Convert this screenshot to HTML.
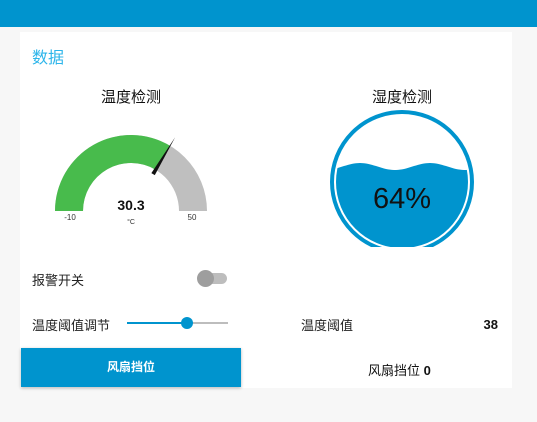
<!DOCTYPE html>
<html><head><meta charset="utf-8"><style>
body{margin:0;width:537px;height:422px;background:#f7f7f7;font-family:"Liberation Sans","Noto Sans CJK SC",sans-serif;overflow:hidden;position:relative}
.abs{position:absolute}
</style></head><body>
<div class="abs" style="left:0;top:0;width:537px;height:27px;background:#0094ce"></div>
<div class="abs" style="left:20px;top:32px;width:492px;height:356px;background:#fff"></div>
<div class="abs" style="left:32px;top:44px;font-size:16px;color:#2cb5ea">数据</div>
<div class="abs" style="left:60px;top:86px;width:142px;text-align:center;font-size:15px;color:#111">温度检测</div>
<div class="abs" style="left:330px;top:86px;width:144px;text-align:center;font-size:15px;color:#111">湿度检测</div>
<svg class="abs" style="left:0;top:0" width="537" height="422">
<g id="gauge"></g>
<g>
<defs><clipPath id="cp"><rect x="320" y="100" width="170" height="147"/></clipPath>
<clipPath id="ic"><circle cx="402" cy="182" r="66"/></clipPath></defs>
<g clip-path="url(#cp)">
<circle cx="402" cy="182" r="70" fill="none" stroke="#0094ce" stroke-width="4"/>
<g clip-path="url(#ic)"><path id="wave" fill="#0094ce" d=""/></g>
<text x="402" y="208" text-anchor="middle" font-size="29" fill="#111" font-family="Liberation Sans,sans-serif" id="pct"></text>
</g></g>
</svg>
<div class="abs" style="left:32px;top:270px;font-size:13px;color:#222">报警开关</div>
<div class="abs" style="left:198px;top:273px;width:29px;height:11px;border-radius:6px;background:#bdbdbd">
<div style="position:absolute;left:-1px;top:-3px;width:17px;height:17px;border-radius:50%;background:#9e9e9e"></div></div>
<div class="abs" style="left:32px;top:315px;font-size:13px;color:#222">温度阈值调节</div>
<div class="abs" style="left:127px;top:322px;width:101px;height:2px;background:#bdbdbd">
<div style="position:absolute;left:0;top:0;width:60px;height:2px;background:#0094ce"></div>
<div style="position:absolute;left:54px;top:-5px;width:12px;height:12px;border-radius:50%;background:#0094ce"></div></div>
<div class="abs" style="left:301px;top:315px;font-size:13px;color:#222">温度阈值</div>
<div class="abs" style="left:470px;top:317px;width:28px;text-align:right;font-size:13px;font-weight:bold;color:#111">38</div>
<div class="abs" style="left:21px;top:348px;width:220px;height:39px;background:#0094ce;color:#fff;font-size:12px;font-weight:bold;text-align:center;line-height:39px;box-shadow:0 1px 3px rgba(0,0,0,.3)">风扇挡位</div>
<div class="abs" style="left:368px;top:360px;font-size:13px;color:#111">风扇挡位 <b>0</b></div>
<script>
const gaugeMin=[-10], gaugeMax=[50], gaugeValue=[30.3], gaugeUnit=["°C"];
const humidity=[64];
const NS="http://www.w3.org/2000/svg";
const cx=131,cy=211,R=76,r=48;
function pt(f,rad){const a=Math.PI*(1-f);return [cx+rad*Math.cos(a),cy-rad*Math.sin(a)];}
function arc(f0,f1,col){const a=pt(f0,R),b=pt(f1,R),c=pt(f1,r),d=pt(f0,r);
const p=document.createElementNS(NS,"path");


p.setAttribute("d",`M${a}A${R},${R} 0 0 1 ${b}L${c}A${r},${r} 0 0 0 ${d}Z`);p.setAttribute("fill",col);return p;}
const g=document.getElementById("gauge");
const f=(gaugeValue[0]-gaugeMin[0])/(gaugeMax[0]-gaugeMin[0]);
g.appendChild(arc(0,1,"#bfbfbf"));g.appendChild(arc(0,f,"#48bb4c"));
const n1=pt(f,R+10),n0=pt(f,r-5),perp=Math.PI*(1-f)+Math.PI/2;
const nd=document.createElementNS(NS,"path");


const w=2;nd.setAttribute("d",`M${n0[0]+w*Math.cos(perp)},${n0[1]-w*Math.sin(perp)}L${n1}L${n0[0]-w*Math.cos(perp)},${n0[1]+w*Math.sin(perp)}Z`);
nd.setAttribute("fill","#111");g.appendChild(nd);
function txt(x,y,s,sz,wt,name,col){const t=document.createElementNS(NS,"text");


t.setAttribute("x",x);t.setAttribute("y",y);t.setAttribute("text-anchor","middle");t.setAttribute("font-size",sz);
t.setAttribute("font-weight",wt);t.setAttribute("fill",col||"#111");t.textContent=s;g.appendChild(t);}
txt(cx,210,gaugeValue[0].toFixed(1),14,"bold","gauge-value");
txt(cx,224,gaugeUnit[0],7,"normal","gauge-unit","#333");
txt(70,220,String(gaugeMin[0]),8,"normal","gauge-min","#333");
txt(192,220,String(gaugeMax[0]),8,"normal","gauge-max","#333");
// liquid
const wy=182+66-132*humidity[0]/100+3;
let d=`M330,${wy}`;for(let x=330;x<=475;x+=2){d+=`L${x},${wy-3.5*Math.cos((x-360)/70*2*Math.PI)}`;}
d+=`L475,260L330,260Z`;
document.getElementById("wave").setAttribute("d",d);
document.getElementById("pct").textContent=humidity[0]+"%";
</script>
</body></html>
